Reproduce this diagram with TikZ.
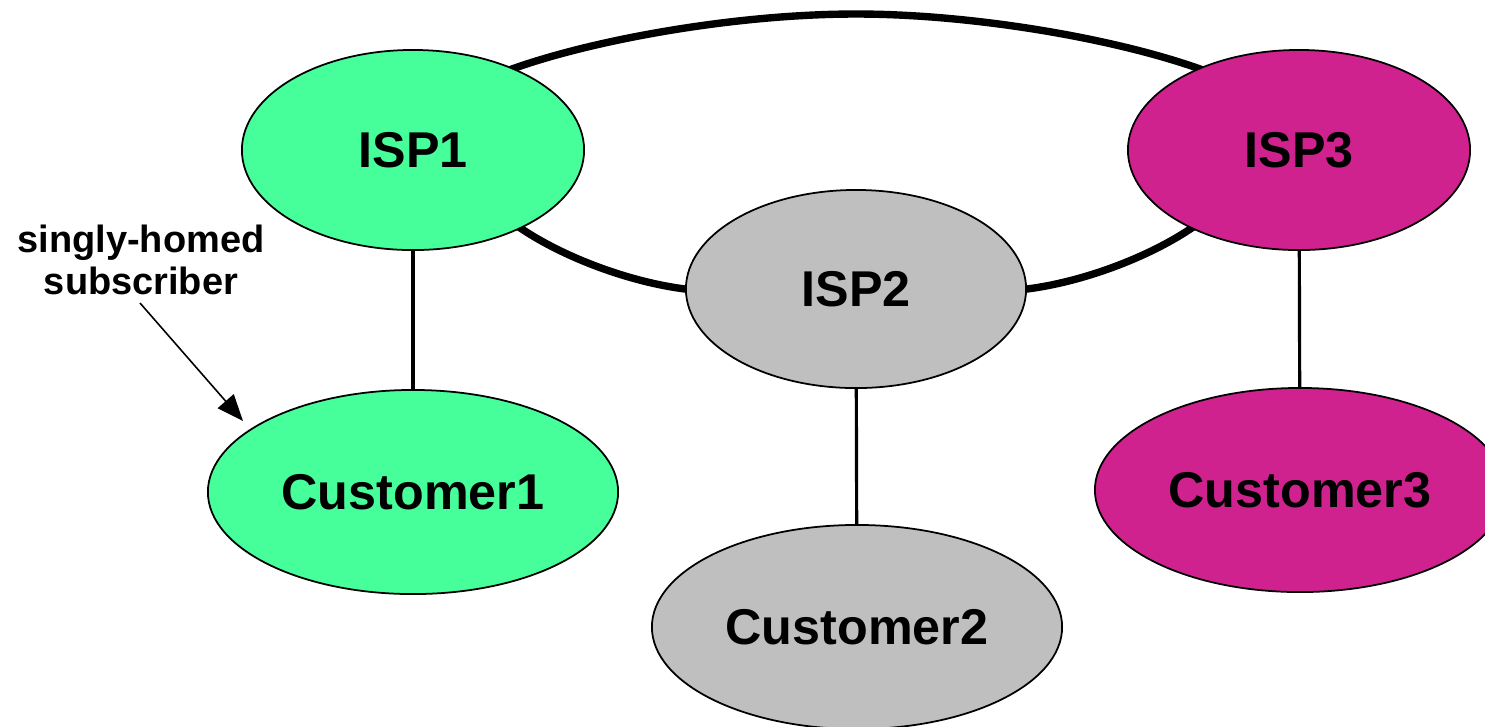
\documentclass[tikz,border=0pt]{standalone}
\usepackage{fontspec}
\setmainfont{Liberation Sans}
\usetikzlibrary{shapes.geometric,arrows.meta,backgrounds}
\definecolor{ispgreen}{RGB}{70,255,154}
\definecolor{ispgrey}{RGB}{191,191,191}
\definecolor{ispmagenta}{RGB}{207,34,142}
\begin{document}
\begin{tikzpicture}[x=0.01cm,y=-0.01cm,
  isp/.style={ellipse,draw=black,line width=0.5pt,inner sep=0pt,
    minimum width=3.42cm,minimum height=2cm,
    font=\fontsize{14.3}{16}\selectfont\bfseries},
  cust/.style={ellipse,draw=black,line width=0.5pt,inner sep=0pt,
    minimum width=4.1cm,minimum height=2.04cm,
    font=\fontsize{14.3}{16}\selectfont\bfseries},
  ring/.style={line width=2.1pt},
  link/.style={line width=0.9pt},
  note/.style={align=center,inner sep=0pt,
    font=\fontsize{10.8}{12}\selectfont\bfseries},
  pointer/.style={line width=0.45pt,-{Triangle[length=7.5pt,width=6pt]}}]
  \clip (0,0) rectangle (1485,726);

  % providers
  \node[isp,fill=ispgreen]   (isp1) at (413,150) {ISP1};
  \node[isp,fill=ispgrey,minimum width=3.4cm,minimum height=1.98cm]
                             (isp2) at (856,289) {ISP2};
  \node[isp,fill=ispmagenta] (isp3) at (1299,150) {ISP3};

  % customers
  \node[cust,fill=ispgreen]   (c1) at (413,492) {Customer1};
  \node[cust,fill=ispgrey]    (c2) at (857,627) {Customer2};
  \node[cust,fill=ispmagenta] (c3) at (1300,490) {Customer3};

  % annotation
  \node[note] (lab) at (141,260) {singly-homed\\subscriber};
  \coordinate (labfoot) at (140,303);
  \coordinate (c1tip) at (243,421);
  \draw[pointer] (labfoot) -- (c1tip);

  \begin{scope}[on background layer]
    % backbone ring: upper arc ISP1 -> ISP3 (ends tucked under the nodes)
    \draw[ring] ([shift={(-44,16)}]isp1.39) -- (isp1.39)
                .. controls (600,38) and (740,14) .. (856,14)
                .. controls (972,14) and (1112,38) .. (isp3.141)
                -- ([shift={(44,16)}]isp3.141);
    % backbone ring: lower arcs through ISP2
    \draw[ring] ([shift={(-45,-30)}]isp1.324) -- (isp1.324)
                .. controls (565,258) and (630,282) .. (isp2.west)
                -- ([shift={(40,5)}]isp2.west);
    \draw[ring] ([shift={(-40,5)}]isp2.east) -- (isp2.east)
                .. controls (1082,282) and (1147,258) .. (isp3.216)
                -- ([shift={(45,-30)}]isp3.216);
    % access links
    \draw[link] (isp1) -- (c1);
    \draw[link] (isp2) -- (c2);
    \draw[link] (isp3) -- (c3);
  \end{scope}
\end{tikzpicture}
\end{document}
